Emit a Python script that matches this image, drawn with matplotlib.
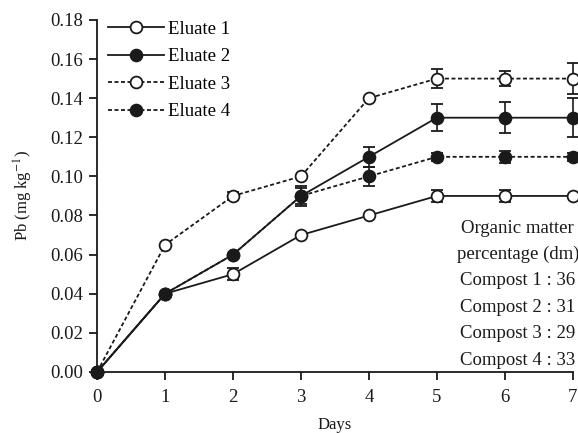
import matplotlib
matplotlib.use("Agg")
import matplotlib.pyplot as plt

plt.rcParams['font.family'] = ['Liberation Serif', 'DejaVu Serif']
plt.rcParams['mathtext.fontset'] = 'stix'

days = [0, 1, 2, 3, 4, 5, 6, 7]
eluate1 = [0.0, 0.04, 0.05, 0.07, 0.08, 0.09, 0.09, 0.09]
eluate1_err = [0, 0, 0.003, 0, 0, 0.003, 0.003, 0]
eluate2 = [0.0, 0.04, 0.06, 0.09, 0.11, 0.13, 0.13, 0.13]
eluate2_err = [0, 0, 0, 0.004, 0.005, 0.007, 0.008, 0.01]
eluate3 = [0.0, 0.065, 0.09, 0.10, 0.14, 0.15, 0.15, 0.15]
eluate3_err = [0, 0, 0.002, 0, 0, 0.005, 0.004, 0.008]
eluate4 = [0.0, 0.04, 0.06, 0.09, 0.10, 0.11, 0.11, 0.11]
eluate4_err = [0, 0, 0, 0.005, 0.005, 0.002, 0.003, 0.002]

labels = ['Eluate 1', 'Eluate 2', 'Eluate 3', 'Eluate 4']
note = ['Organic matter', 'percentage (dm)', 'Compost 1 : 36',
        'Compost 2 : 31', 'Compost 3 : 29', 'Compost 4 : 33']

ink = '#1a1a1a'
fig = plt.figure(figsize=(5.78, 4.33), dpi=100)
ax = fig.add_axes([0.168, 0.141, 0.823, 0.813])

series = [(eluate1, eluate1_err, 'white', '-'),
          (eluate2, eluate2_err, ink, '-'),
          (eluate3, eluate3_err, 'white', (0, (2.2, 1.4))),
          (eluate4, eluate4_err, ink, (0, (2.2, 1.4)))]

handles = []
for (vals, err, fc, ls), lab in zip(series, labels):
    c = ax.errorbar(days, vals, yerr=err, color=ink, ls=ls, lw=1.3,
                    marker='o', ms=8.5, mfc=fc, mec=ink, mew=1.3,
                    capsize=4.5, elinewidth=1.2, capthick=1.2, label=lab,
                    clip_on=False, zorder=3)
    handles.append(c.lines[0])

ax.set_xlim(0, 7)
ax.set_ylim(0, 0.18)
ax.set_xticks(days)
ax.set_yticks([0, 0.02, 0.04, 0.06, 0.08, 0.10, 0.12, 0.14, 0.16, 0.18])
ax.set_yticklabels(['%.2f' % v for v in ax.get_yticks()])
ax.spines['top'].set_visible(False)
ax.spines['right'].set_visible(False)
for s in ['left', 'bottom']:
    ax.spines[s].set_linewidth(1.3)
    ax.spines[s].set_color(ink)
ax.tick_params(direction='out', length=6, width=1.3, labelsize=13.5,
               colors=ink, pad=4)
ax.tick_params(axis='x', pad=6)
ax.set_xlabel('Days', fontsize=12, color=ink, labelpad=8)
ax.set_ylabel('Pb (mg kg$^{-1}$)', fontsize=12, color=ink, labelpad=11)

ax.legend(handles=handles, labels=labels, loc='upper left',
          bbox_to_anchor=(-0.005, 1.035), frameon=False,
          fontsize=13.5, handlelength=3.0, handletextpad=0.2,
          labelspacing=0.55, borderaxespad=0.3)

y0 = 0.0736
for i, line in enumerate(note):
    ax.text(6.19, y0 - i * 0.0135, line, ha='center', va='center',
            fontsize=13.5, color=ink)

fig.savefig('out.png', dpi=100)
